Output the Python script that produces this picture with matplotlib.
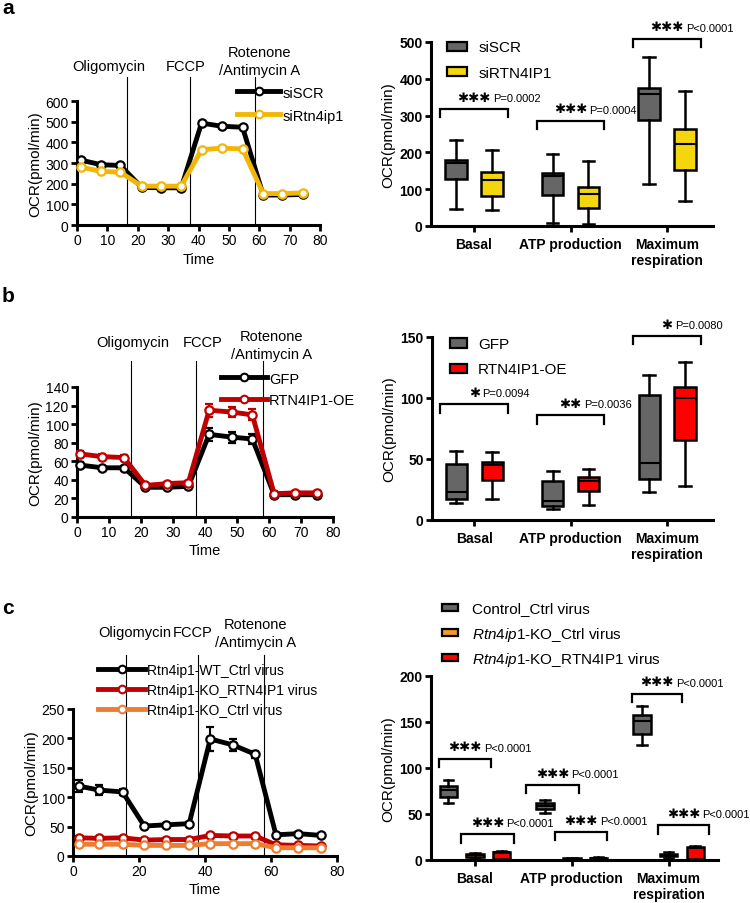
import matplotlib.pyplot as plt
from matplotlib.lines import Line2D
from matplotlib.patches import Rectangle

plt.rcParams['font.family'] = ['Liberation Sans', 'DejaVu Sans']
plt.rcParams['mathtext.fontset'] = 'custom'
plt.rcParams['mathtext.it'] = 'Liberation Sans:italic'
plt.rcParams['mathtext.rm'] = 'Liberation Sans'

W, H = 750, 904

# ---------- data ----------
categories = ['Basal', 'ATP production', 'Maximum\nrespiration']

# a: siRNA knock-down
time_a = [1.3, 7.8, 14.3, 21.3, 27.6, 34.3, 41.0, 47.6, 54.5, 61.3, 67.6, 74.4]
siscr_a = [314, 292, 288, 182, 180, 180, 493, 478, 473, 145, 145, 148]
sirtn_a = [280, 260, 255, 188, 188, 188, 364, 372, 368, 152, 152, 155]
inject_a = [16.6, 37.1, 58.6]
# five-number summaries: whislo, q1, med, q3, whishi
siscr_box = [[45, 127, 171, 180, 234], [9, 85, 135, 144, 196], [114, 289, 359, 375, 459]]
sirtn_box = [[44, 82, 125, 147, 207], [6, 50, 86, 105, 176], [68, 152, 222, 263, 366]]
p_a = ['P=0.0002', 'P=0.0004', 'P<0.0001']
stars_a = [3, 3, 3]
brk_a = [318, 286, 509]

# b: over-expression
time_b = [0.8, 7.8, 14.7, 21.4, 28.2, 34.8, 41.3, 48.4, 54.8, 61.6, 68.0, 75.0]
gfp_b = [56, 53, 53, 32, 32, 33, 89, 86, 84, 24, 24, 24]
gfp_err = [3, 2, 2, 2, 2, 2, 7, 6, 5, 1, 1, 1]
oe_b = [68, 65, 64, 34, 36, 37, 115, 113, 110, 25, 26, 26]
oe_err = [3, 3, 3, 2, 2, 2, 7, 5, 6, 2, 2, 2]
inject_b = [16.8, 37.2, 58.1]
gfp_box = [[13.7, 17, 23, 45.6, 56.6], [9.3, 11.5, 15.6, 32, 40], [23, 33.3, 47, 102.5, 118.6]]
oe_box = [[17, 32.5, 45, 47.8, 55.7], [12.3, 23.8, 32, 35.5, 41.5], [27.9, 65.3, 99.7, 109.3, 129.5]]
p_b = ['P=0.0094', 'P=0.0036', 'P=0.0080']
stars_b = [1, 2, 1]
brk_b = [94.8, 85.8, 150.8]

# c: knock-out rescue
time_c = [1.7, 8.0, 15.0, 21.6, 28.2, 35.2, 41.6, 48.4, 55.2, 61.5, 68.2, 75.2]
wt_c = [119, 112, 109, 51, 53, 55, 199, 189, 173, 36, 38, 35]
wt_err = [10, 8, 5, 3, 3, 3, 20, 10, 6, 2, 2, 2]
ko_rescue_c = [31, 30, 31, 27, 28, 28, 35, 34, 34, 19, 18, 17]
ko_rescue_err = [3, 2, 2, 2, 2, 2, 3, 3, 3, 2, 2, 2]
ko_ctrl_c = [20, 20, 20, 18, 18, 18, 21, 21, 21, 14, 14, 14]
ko_ctrl_err = [2, 2, 2, 2, 2, 2, 2, 2, 2, 2, 2, 2]
inject_c = [16.0, 38.0, 57.8]
ctrl_box = [[62.3, 69, 76, 80.4, 87], [50.7, 55, 58.7, 62, 65], [125, 136.6, 151, 158, 167]]
ko_box = [[1, 3.5, 5, 6.5, 8], [0.5, 1, 1.5, 2, 2.5], [2, 4, 5.5, 7, 9]]
resc_box = [[0.5, 1, 8.5, 9, 9.5], [0.5, 1, 2, 2.5, 3], [0.5, 1, 13.5, 14.5, 15]]
p_c = ['P<0.0001'] * 6
stars_c = [3] * 6
brk_c = [110, 28, 81.5, 30.4, 180.8, 37.7]
brk_c_x = [(-0.37, 0.17), (-0.14, 0.40), (0.53, 1.07), (0.83, 1.36), (1.62, 2.14), (1.89, 2.42)]

fig = plt.figure(figsize=(W / 100, H / 100), dpi=100)


def px_axes(x0, y0, x1, y1):
    return fig.add_axes([x0 / W, 1 - y1 / H, (x1 - x0) / W, (y1 - y0) / H])


def style_axes(ax, bold=False):
    for s in ['top', 'right']:
        ax.spines[s].set_visible(False)
    for s in ['left', 'bottom']:
        ax.spines[s].set_linewidth(2.2)
    ax.tick_params(width=2, length=4, labelsize=10, pad=2)
    if bold:
        for lbl in ax.get_yticklabels() + ax.get_xticklabels():
            lbl.set_fontweight('bold')


def trace_panel(ax, t, series, inject, ylim, ystep, xstep, vtop, txt_pos):
    for y, err, col in series:
        ax.errorbar(t, y, yerr=err, color=col, lw=3.5, marker='o', ms=6,
                    mfc='white', mec=col, mew=1.6, capsize=3, elinewidth=1.5,
                    capthick=1.5, clip_on=False, zorder=3)
    for x in inject:
        ax.axvline(x, 0, vtop, color='black', lw=0.8, clip_on=False, zorder=1)
    ax.set_xlim(0, 80)
    ax.set_ylim(0, ylim)
    ax.set_xticks(range(0, 81, xstep))
    ax.set_yticks(range(0, ylim + 1, ystep))
    ax.set_xlabel('Time', fontsize=10.5, labelpad=3)
    ax.set_ylabel('OCR(pmol/min)', fontsize=11, labelpad=2)
    tr = ax.get_xaxis_transform()
    (ox, oy), (fx, fy), (rx, ry1, ry2) = txt_pos
    kw = dict(transform=tr, ha='center', va='center', fontsize=10.5)
    ax.text(ox, oy, 'Oligomycin', **kw)
    ax.text(fx, fy, 'FCCP', **kw)
    ax.text(rx, ry1, 'Rotenone', **kw)
    ax.text(rx, ry2, '/Antimycin A', **kw)
    style_axes(ax)


def line_legend(labels, colors, x0, x1, ys, tx, fs=10.5):
    for lab, c, y in zip(labels, colors, ys):
        yf = 1 - y / H
        fig.add_artist(Line2D([x0 / W, x1 / W], [yf, yf], color=c, lw=3.5,
                              transform=fig.transFigure))
        fig.add_artist(Line2D([(x0 + x1) / 2 / W], [yf], marker='o', ms=5.5, mfc='white',
                              mec=c, mew=1.5, linestyle='none', transform=fig.transFigure))
        fig.text(tx / W, yf, lab, fontsize=fs, va='center_baseline', ha='left')


def box_legend(labels, colors, x0, x1, ys, tx, ph, fs=11):
    for lab, c, y in zip(labels, colors, ys):
        yf = 1 - y / H
        fig.add_artist(Rectangle((x0 / W, yf - ph / 2 / H), (x1 - x0) / W, ph / H,
                                 facecolor=c, edgecolor='black', linewidth=1.6,
                                 transform=fig.transFigure))
        fig.text(tx / W, yf, lab, fontsize=fs, va='center_baseline', ha='left')


def box_panel(ax, groups, offsets, width, ylim, ystep, xlim):
    for boxes, (off, col) in zip(groups, offsets):
        stats = [dict(whislo=b[0], q1=b[1], med=b[2], q3=b[3], whishi=b[4], fliers=[])
                 for b in boxes]
        ax.bxp(stats, positions=[i + off for i in range(len(boxes))], widths=width,
               patch_artist=True, showfliers=False, capwidths=width * 0.55,
               boxprops=dict(facecolor=col, edgecolor='black', linewidth=1.8),
               whiskerprops=dict(color='black', linewidth=1.8),
               capprops=dict(color='black', linewidth=1.8),
               medianprops=dict(color='black', linewidth=1.5),
               manage_ticks=False, zorder=3)
    ax.set_xlim(*xlim)
    ax.set_ylim(0, ylim)
    ax.set_xticks(range(len(categories)))
    ax.set_xticklabels(categories)
    ax.set_yticks(range(0, ylim + 1, ystep))
    ax.set_ylabel('OCR(pmol/min)', fontsize=11, labelpad=3)
    style_axes(ax, bold=True)
    ax.tick_params(axis='x', pad=4)


def bracket(ax, x0, x1, y, n, ptxt):
    leg = ax.get_ylim()[1] * 0.045
    ax.plot([x0, x0, x1, x1], [y - leg, y, y, y - leg], color='black', lw=1.6,
            clip_on=False, zorder=2, solid_joinstyle='miter')
    st = ax.annotate('\u2731' * n, xy=((x0 + x1) / 2, y), xytext=(0, 8.5),
                     textcoords='offset points', ha='center', va='center',
                     fontsize=9.5, family='DejaVu Sans', annotation_clip=False, zorder=1)
    ax.annotate(ptxt, xy=(1, 0.5), xycoords=st, xytext=(1.5, -0.5),
                textcoords='offset points', ha='left', va='center', fontsize=8,
                annotation_clip=False, zorder=1)


# ---------- panel a ----------
ax = px_axes(77, 102, 320, 226)
trace_panel(ax, time_a, [(siscr_a, None, 'black'), (sirtn_a, None, '#F2B705')],
            inject_a, 600, 100, 10, 1.19,
            [(10.5, 1.28), (35.6, 1.28), (60.2, 1.395, 1.25)])
line_legend(['siSCR', 'siRtn4ip1'], ['black', '#F2B705'], 237, 280, [92, 115], 283)

ax = px_axes(431, 43, 713, 227)
box_panel(ax, [siscr_box, sirtn_box], [(-0.186, '#666666'), (0.186, '#F4D60F')],
          0.22, 500, 100, (-0.445, 2.476))
for i, (h, n, p) in enumerate(zip(brk_a, stars_a, p_a)):
    bracket(ax, i - 0.35, i + 0.35, h, n, p)
box_legend(['siSCR', 'siRTN4IP1'], ['#666666', '#F4D60F'], 447, 467, [47, 72], 479, 9)

# ---------- panel b ----------
ax = px_axes(77, 388, 333, 518)
trace_panel(ax, time_b, [(gfp_b, gfp_err, 'black'), (oe_b, oe_err, '#C00000')],
            inject_b, 140, 20, 10, 1.2,
            [(17.5, 1.346), (39.4, 1.346), (60.9, 1.39, 1.254)])
line_legend(['GFP', 'RTN4IP1-OE'], ['black', '#C00000'], 221, 267, [378, 400], 269)

ax = px_axes(432, 338, 713, 521)
box_panel(ax, [gfp_box, oe_box], [(-0.186, '#666666'), (0.186, '#FF0000')],
          0.22, 150, 50, (-0.438, 2.476))
for i, (h, n, p) in enumerate(zip(brk_b, stars_b, p_b)):
    bracket(ax, i - 0.35, i + 0.35, h, n, p)
box_legend(['GFP', 'RTN4IP1-OE'], ['#666666', '#FF0000'], 450, 467, [344, 369], 478, 9)

# ---------- panel c ----------
ax = px_axes(73, 710, 337, 857)
trace_panel(ax, time_c, [(wt_c, wt_err, 'black'), (ko_rescue_c, ko_rescue_err, '#C00000'),
                         (ko_ctrl_c, ko_ctrl_err, '#ED7D31')],
            inject_c, 250, 50, 20, 1.37,
            [(18.6, 1.524), (36.2, 1.524), (55.2, 1.578, 1.456)])
line_legend(['Rtn4ip1-WT_Ctrl virus', 'Rtn4ip1-KO_RTN4IP1 virus', 'Rtn4ip1-KO_Ctrl virus'],
            ['black', '#C00000', '#ED7D31'], 98, 145, [670, 690, 710], 147, 10)

ax = px_axes(431, 677, 718, 861)
box_panel(ax, [ctrl_box, ko_box, resc_box],
          [(-0.275, '#666666'), (0.0, '#F39A2B'), (0.275, '#FF0000')],
          0.18, 200, 50, (-0.454, 2.51))
for (x0, x1), h, n, p in zip(brk_c_x, brk_c, stars_c, p_c):
    bracket(ax, x0, x1, h, n, p)
box_legend(['Control_Ctrl virus', r'$\mathit{Rtn4ip1}$-KO_Ctrl virus',
            r'$\mathit{Rtn4ip1}$-KO_RTN4IP1 virus'],
           ['#666666', '#F39A2B', '#FF0000'], 442, 458, [608, 633, 658], 472, 7)

for lab, y in [('a', 9), ('b', 297), ('c', 609)]:
    fig.text(2 / W, 1 - y / H, lab, fontsize=15, fontweight='bold', va='center', ha='left')

fig.savefig('out.png', dpi=100)
